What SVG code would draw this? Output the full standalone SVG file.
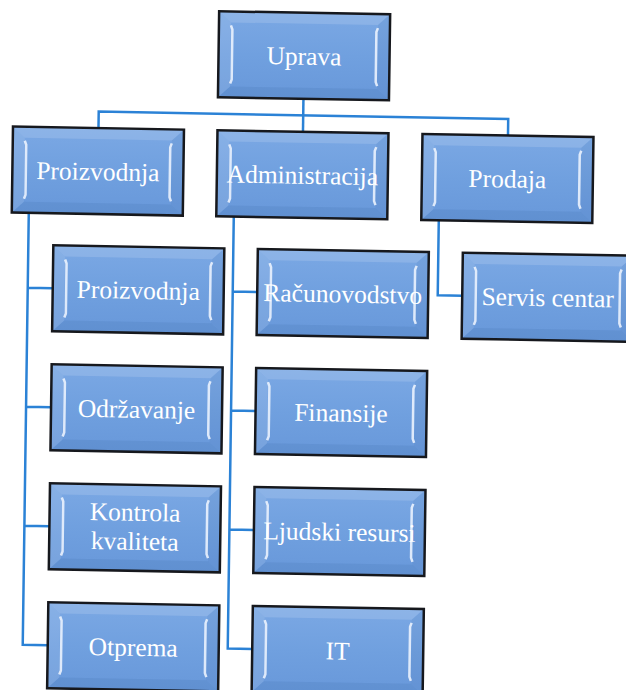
<svg xmlns="http://www.w3.org/2000/svg" xmlns:xlink="http://www.w3.org/1999/xlink" width="626" height="690" viewBox="0 0 626 690">
<style>
.lbl{font-family:"Liberation Serif","Times New Roman",serif;font-size:25.5px;fill:#ffffff;text-anchor:middle}
.con{fill:none;stroke:#2b82d6;stroke-width:2.5;stroke-linejoin:miter}
</style>
<defs>
<linearGradient id="fillg" x1="0" y1="0" x2="0" y2="1">
<stop offset="0" stop-color="#7ba8e4"/>
<stop offset="0.5" stop-color="#70a0df"/>
<stop offset="1" stop-color="#6898da"/>
</linearGradient>
<g id="box">
<rect x="0" y="0" width="171" height="86" fill="url(#fillg)"/>
<polygon points="0,0 171,0 159,11 12,11" fill="#ffffff" fill-opacity="0.14"/>
<polygon points="0,0 12,11 12,75 0,86" fill="#ffffff" fill-opacity="0.10"/>
<polygon points="171,0 171,86 159,75 159,11" fill="#1a3e7a" fill-opacity="0.06"/>
<polygon points="0,86 171,86 159,75 12,75" fill="#1a3e7a" fill-opacity="0.09"/>
<path d="M12,14 L13.5,18 L13.5,68 L12,72" fill="none" stroke="#f2f7ff" stroke-width="2.5" stroke-opacity="0.85"/>
<path d="M159,14 L157.5,18 L157.5,68 L159,72" fill="none" stroke="#f2f7ff" stroke-width="2.5" stroke-opacity="0.85"/>
<rect x="0" y="0" width="171" height="86" fill="none" stroke="#16181d" stroke-width="2.5"/>
</g>
</defs>
<rect x="0" y="0" width="626" height="690" fill="#ffffff"/>
<g transform="matrix(1,0.018,-0.014,1,4.83,-5.63)">
<g id="connectors">
<path class="con" d="M300,99 V132"/>
<path class="con" d="M95.5,132 V115.5 H505 V132"/>
<path class="con" d="M27,218 V650 H52 M27,293 H52 M27,412 H52 M27,531 H52"/>
<path class="con" d="M232,218 V650 H256.5 M232,293 H256.5 M232,412 H256.5 M232,531 H256.5"/>
<path class="con" d="M437,218 V293 H461.5"/>
</g>
<g id="uprava" transform="translate(214.5,13)"><use xlink:href="#box"/><text class="lbl" x="85.5" y="52">Uprava</text></g>
<g id="proizvodnja" transform="translate(10,132)"><use xlink:href="#box"/><text class="lbl" x="85.5" y="52">Proizvodnja</text></g>
<g id="administracija" transform="translate(214.5,132)"><use xlink:href="#box"/><text class="lbl" x="85.5" y="52">Administracija</text></g>
<g id="prodaja" transform="translate(419.5,132)"><use xlink:href="#box"/><text class="lbl" x="85.5" y="52">Prodaja</text></g>
<g id="proizvodnja2" transform="translate(52,250)"><use xlink:href="#box"/><text class="lbl" x="85.5" y="52">Proizvodnja</text></g>
<g id="odrzavanje" transform="translate(52,369)"><use xlink:href="#box"/><text class="lbl" x="85.5" y="52">Održavanje</text></g>
<g id="kontrola" transform="translate(52,488)"><use xlink:href="#box"/><text class="lbl" x="85.5" y="36">Kontrola</text><text class="lbl" x="85.5" y="65">kvaliteta</text></g>
<g id="otprema" transform="translate(52,607)"><use xlink:href="#box"/><text class="lbl" x="85.5" y="52">Otprema</text></g>
<g id="racunovodstvo" transform="translate(256.5,250)"><use xlink:href="#box"/><text class="lbl" x="85.5" y="52">Računovodstvo</text></g>
<g id="finansije" transform="translate(256.5,369)"><use xlink:href="#box"/><text class="lbl" x="85.5" y="52">Finansije</text></g>
<g id="ljudski" transform="translate(256.5,488)"><use xlink:href="#box"/><text class="lbl" x="85.5" y="52">Ljudski resursi</text></g>
<g id="it" transform="translate(256.5,607)"><use xlink:href="#box"/><text class="lbl" x="85.5" y="52">IT</text></g>
<g id="servis" transform="translate(461.5,250)"><use xlink:href="#box"/><text class="lbl" x="85.5" y="52">Servis centar</text></g>
</g>
</svg>
